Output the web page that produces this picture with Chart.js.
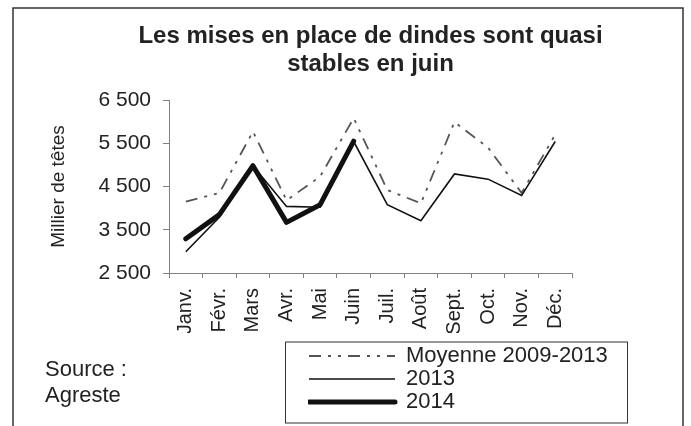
<!DOCTYPE html>
<html>
<head>
<meta charset="utf-8">
<script src="https://cdn.jsdelivr.net/npm/chart.js@4/dist/chart.umd.min.js"></script>
<style>
  html, body { margin: 0; padding: 0; background: #fff; }
  canvas { display: block; }
</style>
</head>
<body>
<canvas id="chart" width="691" height="426"></canvas>
<script>
// data (milliers de têtes)
const months = ['Janv.', 'Févr.', 'Mars', 'Avr.', 'Mai', 'Juin', 'Juil.', 'Août', 'Sept.', 'Oct.', 'Nov.', 'Déc.'];
const moyenne = [4150, 4350, 5770, 4180, 4730, 6080, 4420, 4110, 5990, 5400, 4350, 5700];
const serie2013 = [2990, 3790, 4980, 4040, 4020, 5540, 4080, 3710, 4790, 4670, 4290, 5540];
const serie2014 = [3290, 3850, 4980, 3670, 4080, 5550];
const yTickValues = [2500, 3500, 4500, 5500, 6500];

const txt = '#222';
const axisGrey = '#808080';
const fontFam = '"Liberation Sans", Arial, sans-serif';

function spaced(v) {
    return String(v).replace(/\B(?=(\d{3})+(?!\d))/g, ' ');
}

// legend below the axis labels, wider title box, frames + source note
const decor = {
    id: 'decor',
    afterLayout(chart) {
        const lg = chart.legend;
        lg.left = 308;
        lg.top = 344;
        lg.right = 628;
        lg.bottom = 444;
        const tb = chart.titleBlock;
        tb.left -= 80;
        tb.right += 80;
        tb.width = tb.right - tb.left;
    },
    afterDraw(chart) {
        const ctx = chart.ctx;
        ctx.save();
        ctx.strokeStyle = '#333';
        ctx.lineWidth = 1.5;
        ctx.setLineDash([]);
        ctx.strokeRect(13, 8, 670, 430);
        ctx.lineWidth = 1;
        ctx.strokeRect(285.5, 342, 342, 81);
        ctx.fillStyle = txt;
        ctx.font = '22px ' + fontFam;
        ctx.textAlign = 'left';
        ctx.textBaseline = 'alphabetic';
        ctx.fillText('Source :', 45, 376);
        ctx.fillText('Agreste', 45, 402);
        ctx.restore();
    }
};

new Chart(document.getElementById('chart'), {
    type: 'line',
    data: {
        labels: months,
        datasets: [
            {
                label: 'Moyenne 2009-2013',
                data: moyenne,
                borderColor: '#555',
                borderWidth: 1.8,
                borderDash: [12, 7, 3, 7, 3, 7],
                pointRadius: 0,
                tension: 0,
                order: 3
            },
            {
                label: '2013',
                data: serie2013,
                borderColor: '#111',
                borderWidth: 1.6,
                pointRadius: 0,
                tension: 0,
                order: 2
            },
            {
                label: '2014',
                data: serie2014,
                borderColor: '#111',
                borderWidth: 5,
                borderJoinStyle: 'round',
                borderCapStyle: 'round',
                pointRadius: 0,
                tension: 0,
                order: 1
            }
        ]
    },
    options: {
        responsive: false,
        animation: false,
        devicePixelRatio: 1,
        layout: {
            padding: { left: 47, right: 119, top: 0, bottom: 93 }
        },
        plugins: {
            title: {
                display: true,
                fullSize: false,
                text: ['Les mises en place de dindes sont quasi', 'stables en juin'],
                color: txt,
                font: { family: fontFam, size: 24, weight: 'bold', lineHeight: 1.2 },
                padding: { top: 21.6, bottom: 20.8 }
            },
            legend: {
                position: 'chartArea',
                align: 'start',
                labels: {
                    usePointStyle: true,
                    pointStyle: 'line',
                    pointStyleWidth: 86,
                    padding: 1,
                    color: txt,
                    font: { family: fontFam, size: 22 },
                    sort: (a, b) => a.datasetIndex - b.datasetIndex,
                    generateLabels: (chart) => {
                        const items = Chart.defaults.plugins.legend.labels.generateLabels(chart);
                        return items.map((item) => {
                            const ds = chart.data.datasets[item.datasetIndex];
                            item.lineDash = ds.borderDash || [];
                            item.lineWidth = ds.borderWidth;
                            item.strokeStyle = ds.borderColor;
                            item.lineCap = ds.borderCapStyle || 'butt';
                            return item;
                        });
                    }
                }
            },
            tooltip: { enabled: false }
        },
        scales: {
            x: {
                offset: true,
                afterFit: (s) => { s.height = 60; },
                grid: {
                    offset: true,
                    drawOnChartArea: false,
                    tickLength: 5,
                    color: axisGrey
                },
                border: { color: axisGrey, width: 1 },
                ticks: {
                    autoSkip: false,
                    minRotation: 90,
                    maxRotation: 90,
                    padding: 10,
                    color: txt,
                    font: { family: fontFam, size: 20 }
                }
            },
            y: {
                min: 2500,
                max: 6500,
                afterBuildTicks: (s) => { s.ticks = yTickValues.map(v => ({ value: v })); },
                afterFit: (s) => { s.width = 122; },
                grid: {
                    drawOnChartArea: false,
                    tickLength: 6,
                    color: axisGrey
                },
                border: { color: axisGrey, width: 1 },
                ticks: {
                    padding: 12,
                    color: txt,
                    font: { family: fontFam, size: 21 },
                    callback: (v) => spaced(v)
                },
                title: {
                    display: true,
                    text: 'Millier de têtes',
                    color: txt,
                    font: { family: fontFam, size: 19, lineHeight: 1.2 },
                    padding: { top: 0, bottom: 0 }
                }
            }
        }
    },
    plugins: [decor]
});
</script>
</body>
</html>
